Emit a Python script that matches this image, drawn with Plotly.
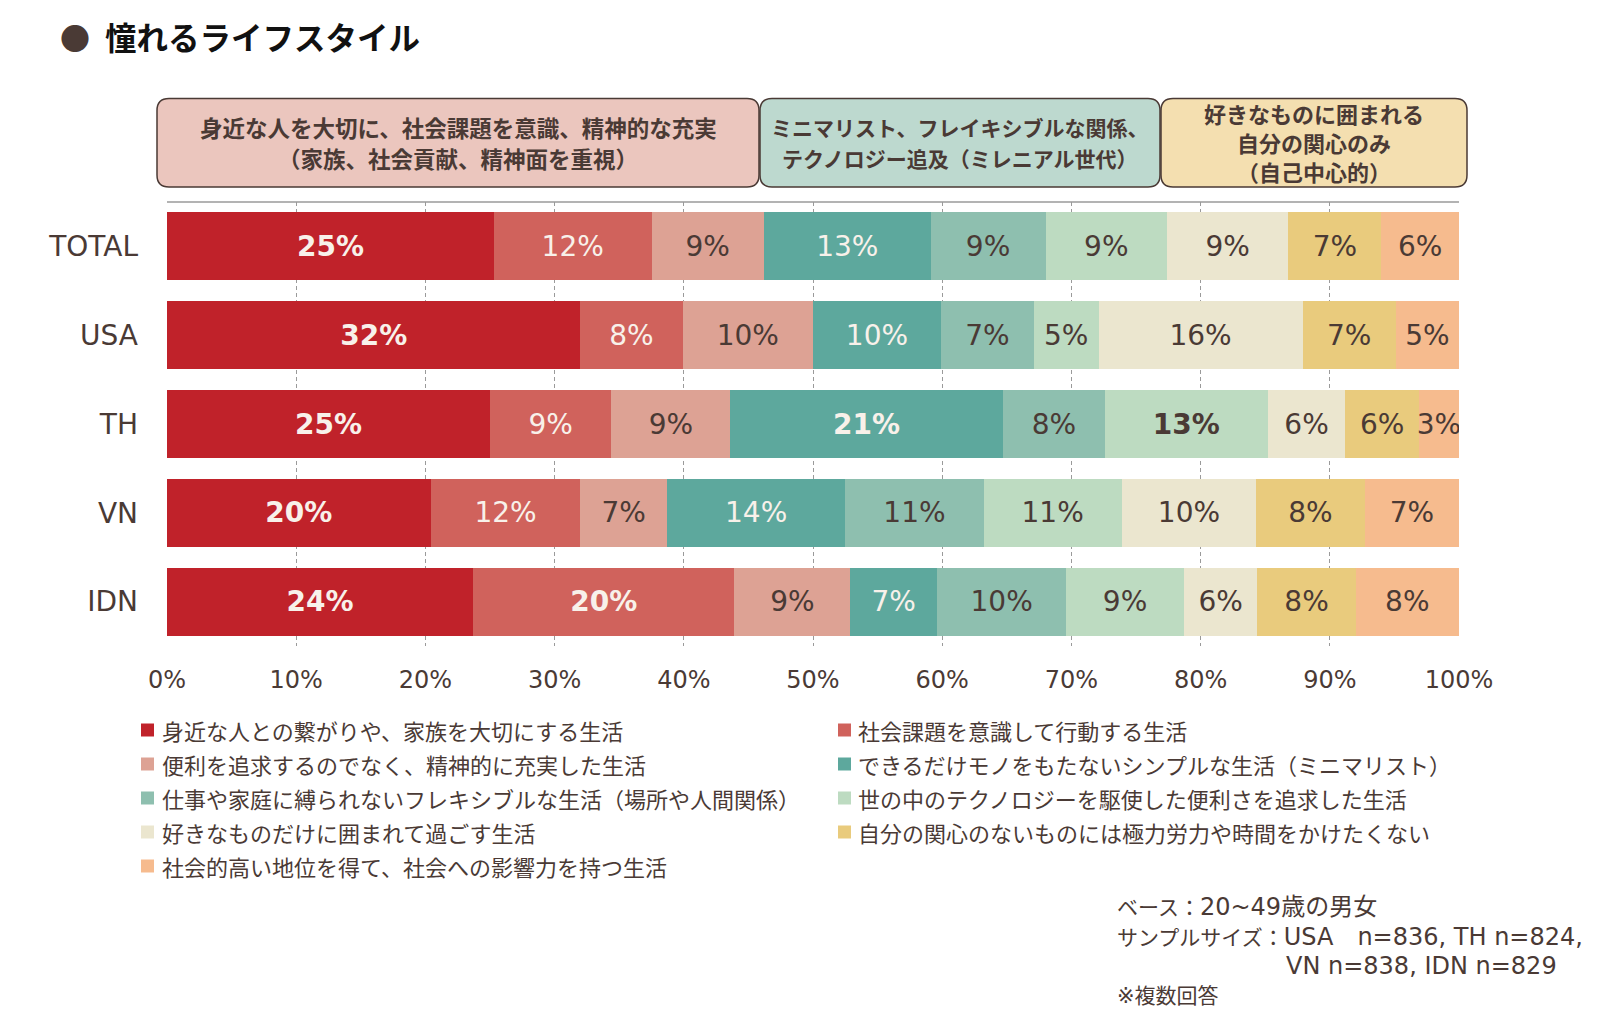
import plotly.graph_objects as go

# ---------------- data ----------------
countries = ["TOTAL", "USA", "TH", "VN", "IDN"]
series_names = [
    "身近な人との繋がりや、家族を大切にする生活",
    "社会課題を意識して行動する生活",
    "便利を追求するのでなく、精神的に充実した生活",
    "できるだけモノをもたないシンプルな生活（ミニマリスト）",
    "仕事や家庭に縛られないフレキシブルな生活（場所や人間関係）",
    "世の中のテクノロジーを駆使した便利さを追求した生活",
    "好きなものだけに囲まれて過ごす生活",
    "自分の関心のないものには極力労力や時間をかけたくない",
    "社会的高い地位を得て、社会への影響力を持つ生活",
]
total = [25.3, 12.2, 8.7, 12.9, 8.9, 9.4, 9.4, 7.2, 6.0]
usa = [32.0, 7.9, 10.1, 9.9, 7.2, 5.0, 15.8, 7.2, 4.9]
th = [25.0, 9.4, 9.2, 21.1, 7.9, 12.6, 6.0, 5.7, 3.1]
vn = [20.4, 11.6, 6.7, 13.8, 10.7, 10.7, 10.4, 8.4, 7.3]
idn = [23.7, 20.2, 9.0, 6.7, 10.0, 9.1, 5.7, 7.6, 8.0]
country_values = [total, usa, th, vn, idn]
x_ticks = [0, 10, 20, 30, 40, 50, 60, 70, 80, 90, 100]
group_headers = [
    ["身近な人を大切に、社会課題を意識、精神的な充実", "（家族、社会貢献、精神面を重視）"],
    ["ミニマリスト、フレイキシブルな関係、", "テクノロジー追及（ミレニアル世代）"],
    ["好きなものに囲まれる", "自分の関心のみ", "（自己中心的）"],
]
title_text = "憧れるライフスタイル"
# footnotes: (japanese part, latin part)
footnotes = [("ベース：", "20~49歳の男女"),
             ("サンプルサイズ：", "USA　n=836, TH n=824,"),
             ("", "VN n=838, IDN n=829"),
             ("※複数回答", "")]

# ---------------- style ----------------
colors = ["#C0222A", "#D0625C", "#DDA294", "#5DA89D", "#8EBFAF",
          "#BDDBC1", "#EBE6CF", "#E9CB7D", "#F6BB8E"]
light_text_series = {0, 1, 3}
bold_cells = {(0, 0), (1, 0), (2, 0), (3, 0), (4, 0), (4, 1), (2, 3), (2, 5)}  # (country, series)
DARK = "#4A3A35"
LIGHT = "#F8F1EA"
NFONT = "DejaVu Sans, Noto Sans CJK JP, sans-serif"
JFONT = "Noto Sans CJK JP, sans-serif"

W, H = 1610, 1028
L, R, T, B = 167, 1459, 202, 646


def px(x):
    return (x - L) / (R - L)


def py(y):
    return (B - y) / (B - T)


fig = go.Figure()
for si, name in enumerate(series_names):
    xs = [vals[si] for vals in country_values]
    texts = []
    for ci, v in enumerate(xs):
        t = f"{round(v)}%"
        if (ci, si) in bold_cells:
            t = f"<b>{t}</b>"
        texts.append(t)
    fig.add_trace(go.Bar(
        orientation="h", x=xs, y=countries, name=name,
        marker=dict(color=colors[si], line=dict(width=0)),
        text=texts, textposition="inside", insidetextanchor="middle",
        textangle=0, constraintext="none",
        textfont=dict(family=NFONT, size=28,
                      color=LIGHT if si in light_text_series else DARK),
        showlegend=False, hoverinfo="x+y+name",
    ))

fig.update_layout(
    width=W, height=H, barmode="stack", bargap=0.236,
    margin=dict(l=L, r=W - R, t=T, b=H - B),
    paper_bgcolor="white", plot_bgcolor="white",
    font=dict(family=NFONT, color=DARK),
    xaxis=dict(range=[0, 100], tickvals=x_ticks, ticktext=[f"{v}%" for v in x_ticks],
               showgrid=True, gridcolor="#9A9A9A", gridwidth=1, griddash="4px,3px",
               zeroline=False, showline=False, ticks="", ticklabelstandoff=17,
               tickfont=dict(size=24, color=DARK, family=NFONT)),
    yaxis=dict(categoryorder="array", categoryarray=countries, autorange="reversed",
               showgrid=False, zeroline=False, showline=False, ticks="",
               ticklabelstandoff=28, tickfont=dict(size=28, color=DARK, family=NFONT)),
)

shapes = []
annotations = []
# top border line of plot
shapes.append(dict(type="line", xref="paper", yref="paper", x0=0, x1=1, y0=1, y1=1,
                   line=dict(color="#9A9A9A", width=1.5)))

# header boxes
box_x = [(157, 759), (760, 1160), (1161, 1467)]
box_fill = ["#EBC6BE", "#BDD9CF", "#F4DFB0"]
by0, by1 = 98.5, 187
rad = 12


def rounded_path(x0, y0, x1, y1, r):
    X = lambda v: px(v)
    Y = lambda v: py(v)
    return (f"M {X(x0 + r)},{Y(y0)} L {X(x1 - r)},{Y(y0)} Q {X(x1)},{Y(y0)} {X(x1)},{Y(y0 + r)} "
            f"L {X(x1)},{Y(y1 - r)} Q {X(x1)},{Y(y1)} {X(x1 - r)},{Y(y1)} "
            f"L {X(x0 + r)},{Y(y1)} Q {X(x0)},{Y(y1)} {X(x0)},{Y(y1 - r)} "
            f"L {X(x0)},{Y(y0 + r)} Q {X(x0)},{Y(y0)} {X(x0 + r)},{Y(y0)} Z")


header_sizes = [22.5, 21, 22]
header_line_y = [[127, 158], [127, 158], [113, 142, 171]]
for i, (x0, x1) in enumerate(box_x):
    shapes.append(dict(type="path", xref="paper", yref="paper",
                       path=rounded_path(x0, by0, x1, by1, rad),
                       fillcolor=box_fill[i], line=dict(color=DARK, width=1.5), layer="above"))
    for line_text, ly in zip(group_headers[i], header_line_y[i]):
        annotations.append(dict(xref="paper", yref="paper", x=px((x0 + x1) / 2), y=py(ly),
                                text=f"<b>{line_text}</b>", showarrow=False,
                                xanchor="center", yanchor="middle", align="center",
                                font=dict(family=JFONT, size=header_sizes[i], color=DARK)))

# title
annotations.append(dict(xref="paper", yref="paper", x=px(58), y=py(37), text="●", showarrow=False,
                        xanchor="left", yanchor="middle", font=dict(family=JFONT, size=30, color=DARK)))
annotations.append(dict(xref="paper", yref="paper", x=px(103), y=py(36), text=f"<b>{title_text}</b>",
                        showarrow=False, xanchor="left", yanchor="middle",
                        font=dict(family=JFONT, size=31.5, color="#111111")))

# legend (two columns, row-major)
col_sq = [141, 838]
col_tx = [160, 856]
row_y0, row_dy = 730, 34
for si, name in enumerate(series_names):
    col = si % 2
    row = si // 2
    yc = row_y0 + row * row_dy
    shapes.append(dict(type="rect", xref="paper", yref="paper",
                       x0=px(col_sq[col]), x1=px(col_sq[col] + 13),
                       y0=py(yc + 6.5), y1=py(yc - 6.5),
                       fillcolor=colors[si], line=dict(width=0)))
    annotations.append(dict(xref="paper", yref="paper", x=px(col_tx[col]), y=py(yc), text=name,
                            showarrow=False, xanchor="left", yanchor="middle",
                            font=dict(family=JFONT, size=22, color=DARK)))

# footnotes
foot_pos = [(1115, 907), (1115, 937), (1284, 966), (1115, 996)]
for (fx, fy), (jp, lat) in zip(foot_pos, footnotes):
    txt = jp + (f"<span style='font-size:24px'>{lat}</span>" if lat else "")
    annotations.append(dict(xref="paper", yref="paper", x=px(fx), y=py(fy), text=txt,
                            showarrow=False, xanchor="left", yanchor="middle",
                            font=dict(family=NFONT, size=21, color=DARK)))

fig.update_layout(shapes=shapes, annotations=annotations)
fig.write_html("out.html")
